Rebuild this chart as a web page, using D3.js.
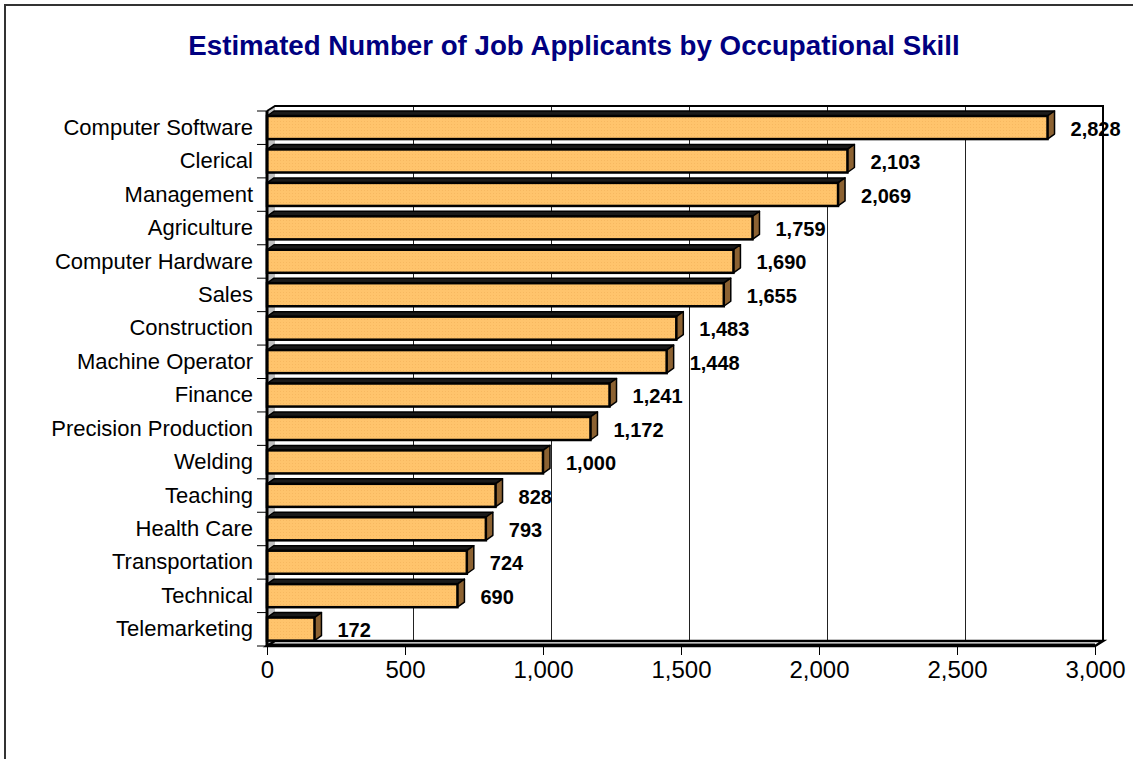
<!DOCTYPE html>
<html>
<head>
<meta charset="utf-8">
<script src="https://cdn.jsdelivr.net/npm/d3@7"></script>
<style>
  body { margin: 0; background: #fff; }
  svg { display: block; font-family: Arial, "Liberation Sans", sans-serif; }
</style>
</head>
<body>
<div id="chart"></div>
<script>
// data
var categories = ["Computer Software", "Clerical", "Management", "Agriculture",
    "Computer Hardware", "Sales", "Construction", "Machine Operator", "Finance",
    "Precision Production", "Welding", "Teaching", "Health Care", "Transportation",
    "Technical", "Telemarketing"];
var applicants = [2828, 2103, 2069, 1759, 1690, 1655, 1483, 1448, 1241, 1172,
    1000, 828, 793, 724, 690, 172];
var xTicks = [0, 500, 1000, 1500, 2000, 2500, 3000];
var title = "Estimated Number of Job Applicants by Occupational Skill";

var width = 1138, height = 759;
var wallDx = 8, wallDy = 5;   // depth of the 3d box
var barDx = 7, barDy = 5;     // depth of each bar

var svg = d3.select("#chart").append("svg")
    .attr("width", width)
    .attr("height", height);

// outer chart border (only top and left show in the picture)
svg.append("path")
    .attr("d", "M5," + (height + 5) + "V5H1133")
    .attr("fill", "none")
    .attr("stroke", "#333")
    .attr("stroke-width", 2);

svg.append("text")
    .attr("x", 574)
    .attr("y", 55)
    .attr("text-anchor", "middle")
    .style("font-size", "27.7px")
    .style("font-weight", "bold")
    .style("fill", "#000080")
    .text(title);

var x = d3.scaleLinear().domain([0, 3000]).range([267, 1095]);
var y = d3.scaleBand().domain(categories).range([111, 646]);

var plotL = x(0), plotR = x(3000), plotT = y.range()[0], plotB = y.range()[1];

// back wall
svg.append("rect")
    .attr("x", plotL + wallDx).attr("y", plotT - wallDy)
    .attr("width", plotR - plotL).attr("height", plotB - plotT)
    .attr("fill", "#fff");

// left side wall (grey)
svg.append("path")
    .attr("d", "M" + plotL + "," + plotT + "L" + (plotL + wallDx) + "," + (plotT - wallDy) +
        "V" + (plotB - wallDy) + "L" + plotL + "," + plotB + "Z")
    .attr("fill", "#c0c0c0");

// gridlines on the back wall
svg.append("g").selectAll("line")
    .data(xTicks.slice(1, -1))
    .enter()
    .append("line")
    .attr("x1", function(d) { return Math.round(x(d) + wallDx) + 0.5; })
    .attr("x2", function(d) { return Math.round(x(d) + wallDx) + 0.5; })
    .attr("y1", plotT - wallDy)
    .attr("y2", plotB - wallDy)
    .attr("stroke", "#222")
    .attr("stroke-width", 1);

// wall outline
svg.append("path")
    .attr("d", "M" + plotL + "," + plotT + "L" + (plotL + wallDx) + "," + (plotT - wallDy) +
        "H" + (plotR + wallDx) + "V" + (plotB - wallDy))
    .attr("fill", "none")
    .attr("stroke", "#000")
    .attr("stroke-width", 2);

// floor
svg.append("path")
    .attr("d", "M" + plotL + "," + plotB + "L" + (plotL + wallDx) + "," + (plotB - wallDy) +
        "H" + (plotR + wallDx) + "L" + plotR + "," + plotB + "Z")
    .attr("fill", "#fff")
    .attr("stroke", "#000")
    .attr("stroke-width", 2.5);
svg.append("line")
    .attr("x1", plotL).attr("x2", plotR)
    .attr("y1", plotB - 1).attr("y2", plotB - 1)
    .attr("stroke", "#000")
    .attr("stroke-width", 3);

// bars
var pattern = svg.append("defs").append("pattern")
    .attr("id", "dots")
    .attr("width", 3).attr("height", 3)
    .attr("patternUnits", "userSpaceOnUse");
pattern.append("rect").attr("width", 3).attr("height", 3).attr("fill", "#ffc46c");
pattern.append("rect").attr("x", 1).attr("y", 1).attr("width", 1).attr("height", 1).attr("fill", "#f7b860");

var rows = categories.map(function(c, i) { return { name: c, value: applicants[i] }; });
var barTop = function(d) { return y(d.name) + 5; };
var barH = y.bandwidth() * 0.69;

var bars = svg.append("g").selectAll("g")
    .data(rows)
    .enter()
    .append("g");

// top face (seen almost edge-on, so it reads as a thick dark edge)
bars.append("path")
    .attr("d", function(d) {
        var y0 = barTop(d), x1 = x(d.value);
        return "M" + plotL + "," + y0 + "L" + (plotL + barDx) + "," + (y0 - barDy) +
            "H" + (x1 + barDx) + "L" + x1 + "," + y0 + "Z";
    })
    .attr("fill", "#1a1a1a")
    .attr("stroke", "#000")
    .attr("stroke-width", 1.5)
    .attr("stroke-linejoin", "round");

// end face
bars.append("path")
    .attr("d", function(d) {
        var y0 = barTop(d), x1 = x(d.value);
        return "M" + x1 + "," + y0 + "L" + (x1 + barDx) + "," + (y0 - barDy) +
            "V" + (y0 + barH - barDy) + "L" + x1 + "," + (y0 + barH) + "Z";
    })
    .attr("fill", "#8c6232")
    .attr("stroke", "#000")
    .attr("stroke-width", 1.5)
    .attr("stroke-linejoin", "round");

// front face
bars.append("rect")
    .attr("x", plotL)
    .attr("y", barTop)
    .attr("width", function(d) { return x(d.value) - plotL; })
    .attr("height", barH)
    .attr("fill", "url(#dots)")
    .attr("stroke", "#000")
    .attr("stroke-width", 2.5);

// value labels
bars.append("text")
    .attr("x", function(d) { return x(d.value) + barDx + 16; })
    .attr("y", function(d) { return y(d.name) + y.bandwidth() / 2 + 1; })
    .attr("dominant-baseline", "central")
    .style("font-size", "20px")
    .style("font-weight", "bold")
    .text(function(d) { return d3.format(",")(d.value); });

// front vertical axis
svg.append("line")
    .attr("x1", plotL).attr("x2", plotL)
    .attr("y1", plotT).attr("y2", plotB)
    .attr("stroke", "#000")
    .attr("stroke-width", 3);

// category axis
var yAxis = svg.append("g")
    .attr("transform", "translate(" + plotL + ",0)")
    .call(d3.axisLeft(y).tickSize(0).tickPadding(14));
yAxis.select(".domain").remove();
yAxis.selectAll("text")
    .style("font-size", "22px")
    .style("font-family", "Arial, 'Liberation Sans', sans-serif")
    .attr("fill", "#000");

svg.append("g").selectAll("line")
    .data(d3.range(categories.length + 1))
    .enter()
    .append("line")
    .attr("x1", plotL - 10).attr("x2", plotL)
    .attr("y1", function(i) { return plotT + i * y.step(); })
    .attr("y2", function(i) { return plotT + i * y.step(); })
    .attr("stroke", "#000")
    .attr("stroke-width", 1);

// value axis
var xAxis = svg.append("g")
    .attr("transform", "translate(0," + plotB + ")")
    .call(d3.axisBottom(x).tickValues(xTicks).tickFormat(d3.format(",")).tickSize(9).tickPadding(6));
xAxis.select(".domain").remove();
xAxis.selectAll("line").attr("stroke", "#000");
xAxis.selectAll("text")
    .style("font-size", "24px")
    .style("font-family", "Arial, 'Liberation Sans', sans-serif")
    .attr("fill", "#000");
</script>
</body>
</html>
